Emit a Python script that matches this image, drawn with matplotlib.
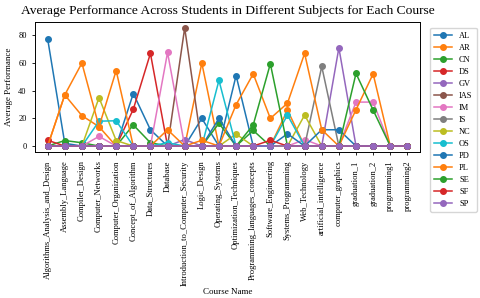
import matplotlib
matplotlib.use("Agg")
import matplotlib.pyplot as plt
import numpy as np

plt.rcParams['font.family'] = 'serif'
plt.rcParams['font.serif'] = ['Liberation Serif', 'DejaVu Serif']

courses = ['Algorithms_Analysis_and_Design', 'Assembly_Language', 'Compiler_Design',
           'Computer_Networks', 'Computer_Organization', 'Concept_of_Algorithm',
           'Data_Structures', 'Database', 'Introduction_to_Computer_Security',
           'Logic_Design', 'Operating_Systems', 'Optimization_Techniques',
           'Programming_languages_concepts', 'Software_Engineering', 'Systems_Programming',
           'Web_Technology', 'artificial_intelligence', 'computer_graphics',
           'graduation_1', 'graduation_2', 'programming1', 'programming2']

# average performance per subject area, one value per course
AL  = [77.6, 2, 0, 0, 0, 38, 11.8, 0, 0, 20, 0, 51, 0, 0, 0, 0, 0, 0, 0, 0, 0, 0]
AR  = [0, 37, 22, 14, 0, 0, 0, 0, 0, 60, 0, 0, 0, 0, 26, 0, 0, 0, 0, 0, 0, 0]
CN  = [0, 4, 2.4, 0, 0, 15.3, 2.4, 0, 0, 0, 16.5, 0, 11.3, 0, 0, 0, 0, 0, 0, 0, 0, 0]
DS  = [4.2, 0, 0, 0, 0, 26.6, 67, 0, 0, 0, 0, 0, 0, 0, 0, 0, 0, 0, 0, 0, 0, 0]
GV  = [0, 0, 0, 0, 0, 0, 0, 0, 4.7, 0, 0, 0, 0, 0, 0, 0, 0, 71, 0, 0, 0, 0]
IAS = [0, 0, 0, 0, 0, 0, 0, 0, 85.4, 0, 0, 0, 0, 0, 0, 0, 0, 0, 0, 0, 0, 0]
IM  = [0, 0, 0, 7, 0, 0, 0, 67.7, 0, 0, 0, 0, 0, 0, 0, 4.7, 0, 0, 31.8, 31.8, 0, 0]
IS  = [0, 0, 0, 0, 0, 0, 0, 0, 0, 0, 0, 0, 0, 0, 0, 0, 57.6, 0, 0, 0, 0, 0]
NC  = [0, 0, 0, 35, 4, 0, 0, 0, 0, 0, 0, 8.7, 0, 0, 0, 22.4, 0, 0, 0, 0, 0, 0]
OS  = [0, 0, 0, 18, 18.3, 0, 0, 2.4, 0, 0, 47.5, 0, 0, 0, 22.4, 0, 0, 0, 0, 0, 0, 0]
PD  = [0, 0, 0, 0, 0, 0, 0, 0, 0, 0, 20, 0, 0, 0, 8.9, 0, 11.8, 11.8, 0, 0, 0, 0]
PL  = [0, 37, 60, 14, 54.6, 0, 0, 11.8, 0, 4.2, 0, 29.9, 52.2, 20, 31, 67, 11.8, 0, 26.3, 52.2, 0, 0]
SE  = [0, 0, 0, 0, 0, 0, 0, 0, 0, 0, 0, 0, 15.3, 59.5, 0, 0, 0, 0, 52.5, 26, 0, 0]
SF  = [0, 0, 0, 0, 0, 0, 0, 0, 0, 0, 0, 0, 0, 4.2, 0, 0, 0, 0, 0, 0, 0, 0]
SP  = [0] * len(courses)

subjects = ['AL', 'AR', 'CN', 'DS', 'GV', 'IAS', 'IM', 'IS', 'NC', 'OS', 'PD', 'PL', 'SE', 'SF', 'SP']
series = [AL, AR, CN, DS, GV, IAS, IM, IS, NC, OS, PD, PL, SE, SF, SP]

fig = plt.figure(figsize=(4.8, 2.98), dpi=100)
ax = fig.add_axes([0.073, 0.49, 0.802, 0.436])

for name, vals in zip(subjects, series):
    ax.plot(courses, vals, marker='o', markersize=4, linewidth=1.1, label=name)

ax.set_title('Average Performance Across Students in Different Subjects for Each Course', fontsize=9.7)
ax.set_xlabel('Course Name', fontsize=6.5, labelpad=2)
ax.set_ylabel('Average Performance', fontsize=6.5)
ax.set_yticks([0, 20, 40, 60, 80])
ax.tick_params(axis='both', labelsize=6.1, length=2.5, width=0.6)
ax.tick_params(axis='y', labelsize=6)
plt.setp(ax.get_xticklabels(), rotation=90)
ax.margins(x=0.035)
for s in ax.spines.values():
    s.set_linewidth(0.7)

ax.legend(loc='upper left', bbox_to_anchor=(1.015, 0.99), fontsize=6, frameon=True,
          handlelength=2.2, labelspacing=0.48, borderpad=0.5)

fig.savefig('out.png', dpi=100)
